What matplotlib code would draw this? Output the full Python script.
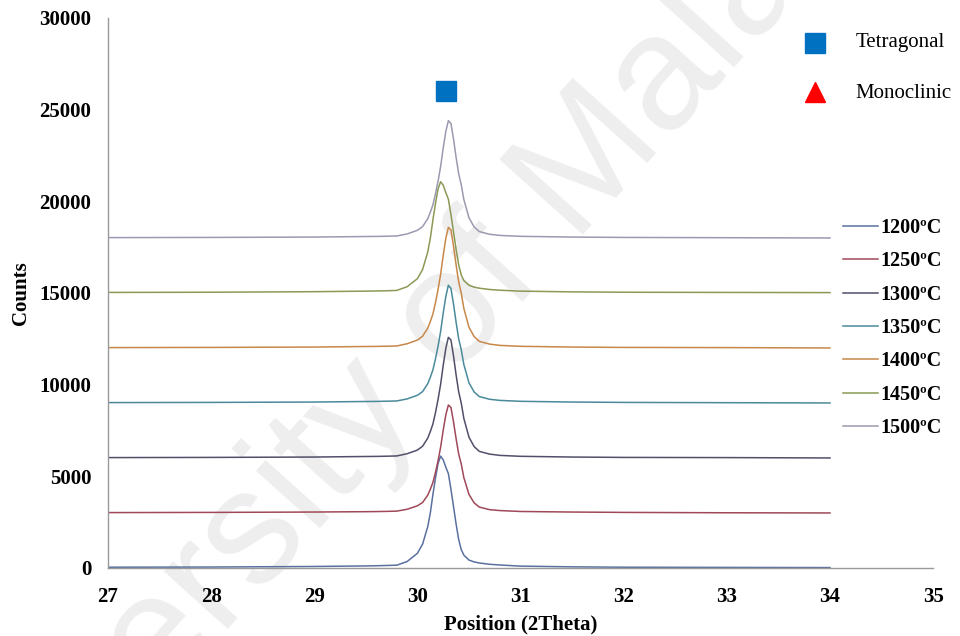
import matplotlib
matplotlib.use("Agg")
import matplotlib.pyplot as plt

# ---------------- data ----------------
two_theta = [27.0, 28.0, 29.0, 29.5, 29.6, 29.7, 29.8, 29.9, 30.0, 30.05, 30.1, 30.125, 30.15,
             30.175, 30.2, 30.225, 30.25, 30.275, 30.3, 30.325, 30.35, 30.375, 30.4,
             30.425, 30.45, 30.5, 30.55, 30.6, 30.7, 30.8, 31.0, 31.5, 32.0, 33.0, 34.0]

counts_1200 = [40, 50, 80, 110, 120, 135, 150, 350, 800, 1300, 2250, 3000, 4000, 4900, 5700, 6100,
               5900, 5500, 5150, 4300, 3350, 2400, 1550, 1000, 700, 430, 330, 270, 200,
               160, 100, 60, 40, 30, 20]
counts_1250 = [3020, 3030, 3050, 3070, 3075, 3085, 3100, 3200, 3390, 3570, 3970, 4290, 4660, 5210,
               5850, 6590, 7510, 8340, 8890, 8750, 7970, 7050, 6220, 5670, 4930, 4010,
               3550, 3320, 3180, 3130, 3080, 3050, 3030, 3010, 3000]
counts_1300 = [6020, 6030, 6050, 6080, 6085, 6095, 6110, 6230, 6430, 6640, 7080, 7440, 7850, 8470,
               9190, 10020, 11050, 11970, 12580, 12440, 11560, 10530, 9610, 8990, 8160,
               7130, 6620, 6360, 6210, 6140, 6090, 6050, 6030, 6020, 6000]
counts_1350 = [9020, 9030, 9050, 9080, 9085, 9095, 9110, 9220, 9420, 9620, 10050, 10400, 10800, 11400,
               12100, 12900, 13900, 14800, 15420, 15250, 14400, 13400, 12500, 11900, 11100,
               10100, 9600, 9350, 9200, 9140, 9090, 9050, 9030, 9015, 9000]
counts_1400 = [12020, 12030, 12050, 12080, 12085, 12095, 12110, 12230, 12430, 12640, 13080, 13440,
               13850, 14470, 15190, 16020, 17050, 17970, 18580, 18440, 17560, 16530, 15610,
               14990, 14160, 13130, 12620, 12360, 12210, 12140, 12090, 12050, 12030, 12020, 12000]
counts_1450 = [15030, 15040, 15070, 15100, 15110, 15120, 15140, 15340, 15780, 16280, 17230, 17980,
               18980, 19880, 20680, 21070, 20880, 20480, 20120, 19280, 18330, 17380, 16530,
               15980, 15680, 15420, 15320, 15260, 15190, 15150, 15100, 15060, 15040, 15030, 15020]
counts_1500 = [18020, 18030, 18050, 18080, 18085, 18095, 18110, 18220, 18420, 18620, 19050, 19400,
               19800, 20400, 21100, 21900, 22900, 23800, 24400, 24250, 23400, 22400, 21500,
               20900, 20100, 19100, 18600, 18350, 18200, 18140, 18090, 18050, 18030, 18015, 18000]

labels = ["1200ºC", "1250ºC", "1300ºC", "1350ºC", "1400ºC", "1450ºC", "1500ºC"]
series = [counts_1200, counts_1250, counts_1300, counts_1350, counts_1400, counts_1450, counts_1500]
colors = ["#5a70a0", "#a04858", "#50506a", "#4a8a9a", "#c8884a", "#8a9a55", "#9a9ab0"]

tetragonal_peak = (30.28, 26000)

x_ticks = [27, 28, 29, 30, 31, 32, 33, 34, 35]
y_ticks = [0, 5000, 10000, 15000, 20000, 25000, 30000]

# ---------------- figure ----------------
serif = ["Liberation Serif", "DejaVu Serif"]
plt.rcParams["font.family"] = serif

fig = plt.figure(figsize=(9.6, 6.36), dpi=100)
ax = fig.add_axes([0.1125, 0.107, 0.8595, 0.8647])
ax.patch.set_alpha(0)

# watermark (behind the axes)
fig.text(0.42, 0.415, "University of Malaya", fontsize=118, color="#eeeeee",
         rotation=48, ha="center", va="center", zorder=-1,
         family=["Liberation Sans", "DejaVu Sans"])

for y, c, lab in zip(series, colors, labels):
    ax.plot(two_theta, y, color=c, lw=1.1, label=lab)

ax.plot([tetragonal_peak[0]], [tetragonal_peak[1]], marker="s", ms=15,
        color="#0070c0", ls="none")

ax.set_xlim(27, 35)
ax.set_ylim(0, 30000)
ax.set_xticks(x_ticks)
ax.set_yticks(y_ticks)
ax.tick_params(length=0, labelsize=15)
ax.tick_params(axis="y", pad=12)
ax.tick_params(axis="x", pad=14)
for lbl in ax.get_xticklabels() + ax.get_yticklabels():
    lbl.set_fontweight("bold")

for s in ["top", "right"]:
    ax.spines[s].set_visible(False)
for s in ["left", "bottom"]:
    ax.spines[s].set_color("#999999")
    ax.spines[s].set_linewidth(1.0)

ax.set_xlabel("Position (2Theta)", fontsize=15, fontweight="bold", labelpad=5)
ax.set_ylabel("Counts", fontsize=15, fontweight="bold", labelpad=6)

leg = ax.legend(loc="upper left", bbox_to_anchor=(0.891, 0.636), frameon=False,
                fontsize=14.5, handlelength=1.75, handletextpad=0.1, labelspacing=0.66,
                borderaxespad=0, borderpad=0)
for t in leg.get_texts():
    t.set_fontweight("bold")

# phase key
ax.plot([0.857], [0.955], marker="s", ms=15, color="#0070c0", ls="none",
        transform=ax.transAxes, clip_on=False)
ax.plot([0.857], [0.865], marker="^", ms=15, color="#ff0000", ls="none",
        transform=ax.transAxes, clip_on=False)
ax.text(0.906, 0.955, "Tetragonal", transform=ax.transAxes, fontsize=15,
        va="center", ha="left")
ax.text(0.906, 0.863, "Monoclinic", transform=ax.transAxes, fontsize=15,
        va="center", ha="left")

fig.savefig("out.png", dpi=100)
